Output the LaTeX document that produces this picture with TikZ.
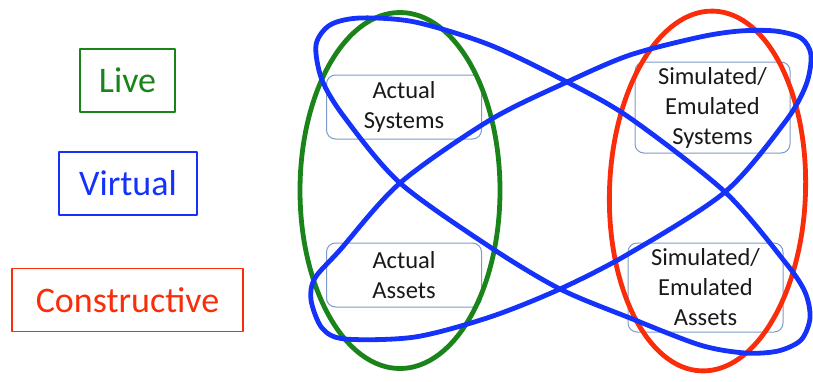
\documentclass[tikz,border=0pt]{standalone}
\usepackage{fontspec}
\setmainfont{Carlito}
\usetikzlibrary{positioning}
\definecolor{livegreen}{RGB}{26,132,26}
\definecolor{virtblue}{RGB}{20,50,250}
\definecolor{conred}{RGB}{250,45,10}
\definecolor{boxedge}{RGB}{125,155,200}

\begin{document}
\begin{tikzpicture}[x=1pt,y=-1pt,line join=round]
	\tikzstyle{tag}=[rectangle, draw, line width=1.2pt, minimum height=63pt, inner sep=0pt, font=\fontsize{36}{40}\selectfont]
	\tikzstyle{system}=[rectangle, rounded corners=9pt, draw=boxedge, line width=1pt, fill=white, minimum width=155pt, text width=150pt, align=center, inner sep=0pt, font=\fontsize{24.5}{30}\selectfont, text=black!90]
	\tikzstyle{ring}=[line width=4.8pt]
	
	\useasboundingbox (0,0) rectangle (813,381);
	
	\node[tag, draw=livegreen, text=livegreen, minimum width=95pt]   (live)   at (127.5,80.5) {Live};
	\node[tag, draw=virtblue, text=virtblue, minimum width=138pt]    (virt)   at (128,183.5)  {Virtual};
	\node[tag, draw=conred, text=conred, minimum width=231pt]        (constr) at (127.5,300)  {Constructive};
	
	\node[system, minimum height=64pt] (actsys) at (404,107)     {Actual\\Systems};
	\node[system, minimum height=64pt] (actass) at (404,275)     {Actual\\Assets};
	\node[system, minimum height=91pt] (simsys) at (712.5,107.5) {Simulated/\\Emulated\\Systems};
	\node[system, minimum height=89pt] (simass) at (705.5,287.5) {Simulated/\\Emulated\\Assets};
	
	% live and constructive rings
	\draw[ring, livegreen] (400,190.5) ellipse [x radius=100, y radius=178];
	\draw[ring, conred, rotate around={-2:(707.5,191)}] (707.5,191) ellipse [x radius=98, y radius=180];
	
	% virtual loops
	\draw[ring, virtblue] plot[smooth cycle] coordinates {(316,45) (330,25) (360,18) (415,22) (490,45) (567,82) (630,118) (725,192) (785,262) (805,292) (810,318) (801,340) (778,351) (745,353) (700,345) (630,318) (560,289) (490,247) (400,183) (345,118) (322,80)};
	\draw[ring, virtblue] plot[smooth cycle] coordinates {(311,300) (322,328) (345,339) (415,337) (490,317) (560,289) (630,253) (725,192) (785,122) (806,85) (811,55) (801,38) (775,31) (740,31) (700,37) (630,55) (567,82) (490,120) (400,183) (340,250) (315,278)};
	
\end{tikzpicture}
\end{document}
